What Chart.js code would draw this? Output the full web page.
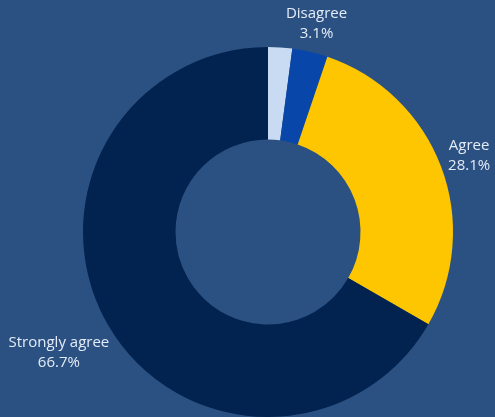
<!DOCTYPE html>
<html>
<head>
<meta charset="utf-8">
<script src="https://cdn.jsdelivr.net/npm/chart.js@4/dist/chart.umd.min.js"></script>
<style>
    html, body { margin: 0; padding: 0; background: #2b5183; }
    #wrap { width: 495px; height: 417px; position: relative; }
</style>
</head>
<body>
<div id="wrap"><canvas id="surveyChart"></canvas></div>
<script>
// Survey responses, clockwise from 12 o'clock
const categories = ['Strongly disagree', 'Disagree', 'Agree', 'Strongly agree'];
const shares = [2.1, 3.1, 28.1, 66.7];
const sliceColors = ['#c8dbf2', '#0846a9', '#fec600', '#02234f'];
const labelled = [false, true, true, true];

// Draws "name / value%" outside each labelled slice
const outerLabels = {
    id: 'outerLabels',
    afterDatasetsDraw(chart) {
        const ctx = chart.ctx;
        const meta = chart.getDatasetMeta(0);
        const lineH = 20;
        ctx.save();
        ctx.font = '15px "Open Sans", sans-serif';
        ctx.fillStyle = '#e4ecf7';
        ctx.textAlign = 'center';
        ctx.textBaseline = 'middle';
        meta.data.forEach((arc, i) => {
            if (!labelled[i]) return;
            const mid = (arc.startAngle + arc.endAngle) / 2;
            const dx = Math.cos(mid), dy = Math.sin(mid);
            const lines = [categories[i], shares[i].toFixed(1) + '%'];
            const halfW = Math.max(...lines.map(t => ctx.measureText(t).width)) / 2;
            const halfH = lineH * 0.9;
            const push = halfW * Math.abs(dx) + halfH * Math.abs(dy);
            const r = arc.outerRadius + 4 + push;
            const cx = arc.x + dx * r;
            const cy = arc.y + dy * r;
            ctx.fillText(lines[0], cx, cy - lineH / 2);
            ctx.fillText(lines[1], cx, cy + lineH / 2);
        });
        ctx.restore();
    }
};

new Chart(document.getElementById('surveyChart'), {
    type: 'doughnut',
    data: {
        labels: categories,
        datasets: [{
            data: shares,
            backgroundColor: sliceColors,
            borderWidth: 0
        }]
    },
    options: {
        responsive: true,
        maintainAspectRatio: false,
        animation: false,
        cutout: '50%',
        layout: { padding: { top: 47, bottom: 0, left: 41, right: 0 } },
        plugins: {
            legend: { display: false },
            tooltip: { enabled: false }
        }
    },
    plugins: [outerLabels]
});
</script>
</body>
</html>
